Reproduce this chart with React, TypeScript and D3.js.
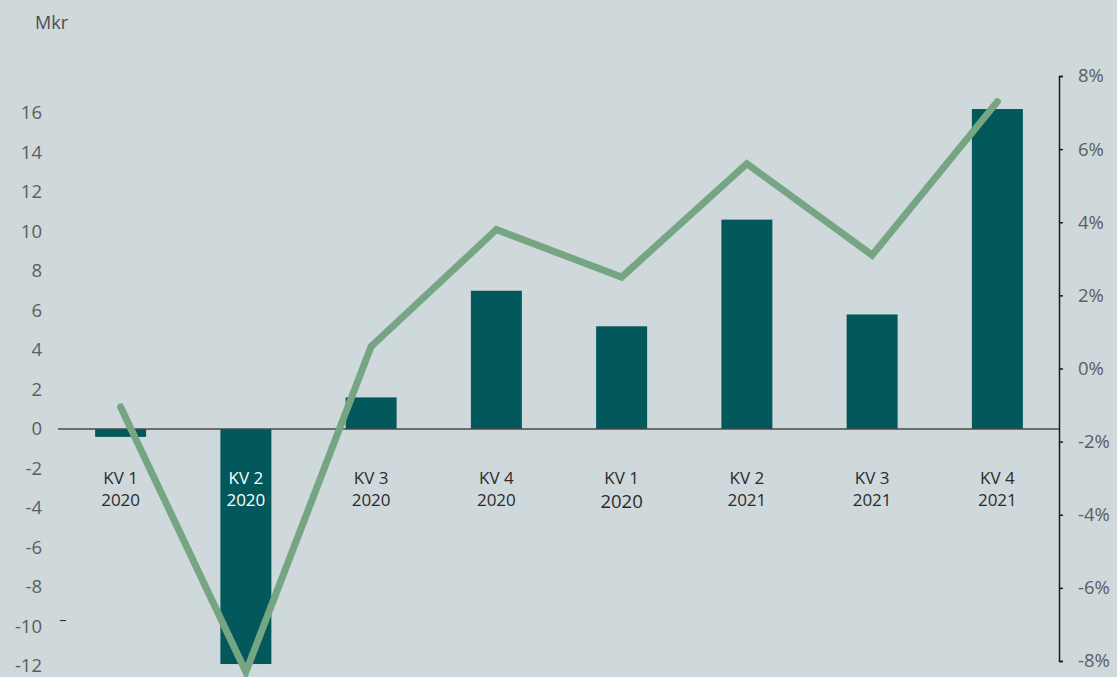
import { useEffect, useRef } from "react";
import { scaleBand, scaleLinear, line, select, axisRight } from "d3";

const quarters = ["KV 1", "KV 2", "KV 3", "KV 4", "KV 1", "KV 2", "KV 3", "KV 4"];
const years = ["2020", "2020", "2020", "2020", "2020", "2021", "2021", "2021"];
const barValues = [-0.4, -11.9, 1.6, 7.0, 5.2, 10.6, 5.8, 16.2];
const lineValues = [-1.05, -8.3, 0.6, 3.8, 2.5, 5.6, 3.1, 7.3];
const leftTicks = [16, 14, 12, 10, 8, 6, 4, 2, 0, -2, -4, -6, -8, -10, -12];
const rightTicks = [8, 6, 4, 2, 0, -2, -4, -6, -8];

const W = 1117;
const H = 677;
const FONT = "'Open Sans', 'Noto Sans', sans-serif";

function RightAxis({ scale, x }: { scale: any; x: number }) {
  const ref = useRef<SVGGElement>(null);
  useEffect(() => {
    if (!ref.current) return;
    const g = select(ref.current);
    g.call(
      axisRight(scale)
        .tickValues(rightTicks)
        .tickSize(4)
        .tickPadding(15)
        .tickFormat((d: any) => `${d}%`)
    );
    g.select(".domain").attr("stroke", "#1a1a1a").attr("stroke-width", 1.5);
    g.selectAll(".tick line").attr("stroke", "#1a1a1a").attr("stroke-width", 1.5);
    g.selectAll(".tick text")
      .attr("fill", "#5a5f62")
      .attr("font-size", 18.5)
      .attr("font-family", FONT);
  }, [scale]);
  return <g ref={ref} transform={`translate(${x},0)`} />;
}

export default function App() {
  const x = scaleBand<number>()
    .domain(barValues.map((_, i) => i))
    .range([58, 1060])
    .paddingInner(0.593)
    .paddingOuter(0.2965);

  const y = scaleLinear().domain([0, 16]).range([429, 113]);
  const y2 = scaleLinear().domain([-8, 8]).range([661, 76]);

  const cx = (i: number) => (x(i) ?? 0) + x.bandwidth() / 2;

  const path = line<number>()
    .x((_, i) => cx(i))
    .y((d) => y2(d))(lineValues);

  return (
    <svg
      width={W}
      height={H}
      style={{ position: "absolute", left: 0, top: 0, display: "block" }}
    >
      <rect width={W} height={H} fill="#cfd8da" />
      <text x={35} y={29} fontSize={18} fill="#4a4f52" fontFamily={FONT}>
        Mkr
      </text>
      {leftTicks.map((t) => (
        <text
          key={`lt-${t}`}
          x={42}
          y={y(t)}
          dy="0.35em"
          textAnchor="end"
          fontSize={18.5}
          fill="#5a5f62"
          fontFamily={FONT}
        >
          {t}
        </text>
      ))}
      <line x1={60} x2={66} y1={y(-9.7)} y2={y(-9.7)} stroke="#222" strokeWidth={1} />
      {barValues.map((v, i) => (
        <rect
          key={`bar-${i}`}
          x={x(i)}
          y={y(Math.max(0, v))}
          width={x.bandwidth()}
          height={Math.abs(y(v) - y(0))}
          fill="#03585c"
        />
      ))}
      <line x1={58} x2={1060} y1={y(0)} y2={y(0)} stroke="#4a4a4a" strokeWidth={1.5} />
      {quarters.map((q, i) => (
        <g key={`xl-${i}`} fill={i === 1 ? "#ffffff" : "#2b2b2b"} fontFamily={FONT}>
          <text x={cx(i)} y={484} textAnchor="middle" fontSize={17}>
            {q}
          </text>
          <text
            x={cx(i)}
            y={i === 4 ? 508 : 506}
            textAnchor="middle"
            fontSize={i === 4 ? 18.5 : 17}
          >
            {years[i]}
          </text>
        </g>
      ))}
      <path
        d={path ?? ""}
        fill="none"
        stroke="#76a584"
        strokeWidth={7}
        strokeLinecap="round"
        strokeLinejoin="miter"
      />
      <RightAxis scale={y2} x={1059} />
    </svg>
  );
}
